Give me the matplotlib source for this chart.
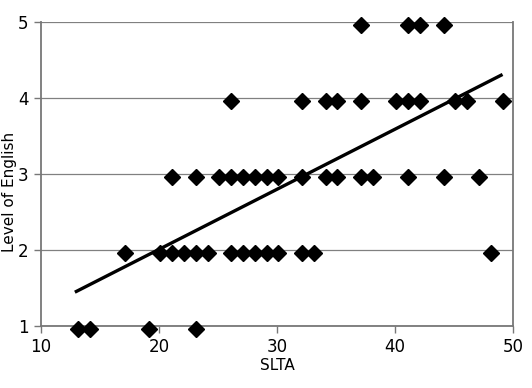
import matplotlib
matplotlib.use('Agg')
import matplotlib.pyplot as plt
import matplotlib.transforms as mtransforms
import numpy as np

# SLTA score for each level of English
slta_level1 = [13, 14, 19, 23]
slta_level2 = [17, 20, 21, 22, 23, 24, 26, 27, 28, 29, 30, 32, 33, 48]
slta_level3 = [21, 23, 25, 26, 27, 28, 29, 30, 32, 34, 35, 37, 38, 41, 44, 47]
slta_level4 = [26, 32, 34, 35, 37, 40, 41, 42, 45, 46, 49]
slta_level5 = [37, 41, 42, 44]

levels = [1, 2, 3, 4, 5]
x_ticks = [10, 20, 30, 40, 50]

slta = []
level = []
for lv, xs in zip(levels, [slta_level1, slta_level2, slta_level3, slta_level4, slta_level5]):
    slta += xs
    level += [lv] * len(xs)
slta = np.array(slta, dtype=float)
level = np.array(level, dtype=float)

fig = plt.figure(figsize=(5.32, 3.88), dpi=100)
ax = fig.add_axes([0.077, 0.160, 0.887, 0.783])

# markers in the original sit a touch below/right of the gridlines
shift = mtransforms.ScaledTranslation(1.5 / 100, -3 / 100, fig.dpi_scale_trans)
ax.plot(slta, level, linestyle='none', marker='D', markersize=8.5,
        color='black', zorder=3, clip_on=False, transform=ax.transData + shift)

# linear trend line
k, b = np.polyfit(slta, level, 1)
xl = np.array([slta.min(), slta.max()])
ax.plot(xl, k * xl + b, color='black', linewidth=2.4, zorder=4)

ax.set_xlim(10, 50)
ax.set_ylim(1, 5)
ax.set_xticks(x_ticks)
ax.set_yticks(levels)
ax.yaxis.grid(True, color='#808080', linewidth=0.9)
ax.set_axisbelow(True)

for side in ['left', 'bottom', 'right']:
    ax.spines[side].set_color('#777777')
    ax.spines[side].set_linewidth(1.3)
ax.spines['top'].set_visible(False)

ax.tick_params(axis='both', labelsize=12, color='#777777', length=5, width=1)
ax.tick_params(axis='x', pad=4)
ax.tick_params(axis='y', pad=4)

ax.set_xlabel('SLTA', fontsize=11, labelpad=1)
fig.text(0.017, 0.505, 'Level of English', rotation=90, fontsize=11,
         va='center', ha='center')

fig.savefig('out.png', dpi=100)
